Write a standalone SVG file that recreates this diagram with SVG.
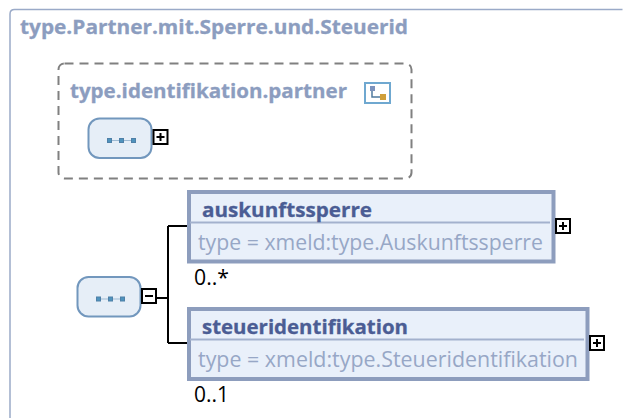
<svg xmlns="http://www.w3.org/2000/svg" width="623" height="418" viewBox="0 0 623 418">
<style>
text{font-family:"Open Sans","Noto Sans","DejaVu Sans",sans-serif}
.t{font-weight:700;font-size:20px;fill:#8c9dbf;stroke:#8c9dbf;stroke-width:.3}
.n{font-weight:700;font-size:20px;fill:#4b5d94;stroke:#4b5d94;stroke-width:.3}
.s{font-size:21px;fill:#97a7c6}
.o{font-size:21px;fill:#000}
.box{fill:#e9f0fa;stroke:#8d9dbd;stroke-width:4}
.sep{stroke:#a3b1cd;stroke-width:2}
.seq{fill:#e6eef7;stroke:#7297bd;stroke-width:2}
.btn{fill:#fff;stroke:#000;stroke-width:2}
.sym{stroke:#000;stroke-width:2}
.c{fill:none;stroke:#000;stroke-width:2}
</style>
<defs>
<g id="dots"><path d="M0 0H24" stroke="#9dbad3" stroke-width="1"/><rect x="-2" y="-2" width="4" height="4" fill="#4f93bd" stroke="#4f80a8"/><rect x="10" y="-2" width="4" height="4" fill="#4f93bd" stroke="#4f80a8"/><rect x="22" y="-2" width="4" height="4" fill="#4f93bd" stroke="#4f80a8"/></g>
<g id="plus"><rect x="0.500" y="0.500" width="14" height="14" class="btn"/><path d="M3.500 7.500H11.500M7.500 3.500V11.500" class="sym"/></g>
<g id="minus"><rect x="0.500" y="0.500" width="14" height="14" class="btn"/><path d="M3.500 7.500H11.500" class="sym"/></g>
</defs>
<g id="partner-type">
<path d="M10 418V14Q10 9.500 14.500 9.500H622.500" fill="none" stroke="#9aaac8" stroke-width="1.500"/>
<text class="t" x="20" y="34" textLength="388" lengthAdjust="spacingAndGlyphs">type.Partner.mit.Sperre.und.Steuerid</text>
</g>
<g id="identifikation-partner">
<rect x="58.500" y="63.500" width="353" height="115" rx="6" fill="none" stroke="#808080" stroke-width="2" stroke-dasharray="9 6"/>
<text class="t" x="70" y="98" textLength="277" lengthAdjust="spacingAndGlyphs">type.identifikation.partner</text>
<rect x="365" y="83" width="25" height="20" fill="#fff" stroke="#6fa8d0" stroke-width="2"/>
<path d="M372 90V97H381" fill="none" stroke="#4f7a9f" stroke-width="1.500"/>
<rect x="370" y="86" width="5" height="5" fill="#7d93bd"/>
<rect x="380" y="94" width="6" height="6" fill="#cf9f3a"/>
</g>
<g id="sequence-1">
<rect x="88.500" y="118.500" width="63" height="39.500" rx="11" class="seq"/>
<use href="#dots" x="109.500" y="140.500"/>
<use href="#plus" x="153" y="129.500"/>
</g>
<g id="sequence-2">
<rect x="77.500" y="277" width="63" height="39.500" rx="11" class="seq"/>
<use href="#dots" x="98.500" y="299"/>
<use href="#minus" x="141.500" y="288.500"/>
</g>
<g id="connectors">
<path class="c" d="M157 298H168M168 226V343M168 226H188M168 343H188"/>
</g>
<g id="auskunftssperre">
<rect x="189" y="192" width="364.500" height="69.500" class="box"/>
<path class="sep" d="M190 222.500H550"/>
<text class="n" x="202" y="217" textLength="170" lengthAdjust="spacingAndGlyphs">auskunftssperre</text>
<text class="s" x="198" y="250" textLength="345" lengthAdjust="spacingAndGlyphs">type = xmeld:type.Auskunftssperre</text>
<text class="o" x="194" y="285" textLength="35" lengthAdjust="spacingAndGlyphs">0..*</text>
<use href="#plus" x="555.500" y="218.500"/>
</g>
<g id="steueridentifikation">
<rect x="189" y="309" width="398.500" height="70" class="box"/>
<path class="sep" d="M190 339.500H584"/>
<text class="n" x="202" y="334" textLength="206" lengthAdjust="spacingAndGlyphs">steueridentifikation</text>
<text class="s" x="198" y="367" textLength="380" lengthAdjust="spacingAndGlyphs">type = xmeld:type.Steueridentifikation</text>
<text class="o" x="194" y="402" textLength="35" lengthAdjust="spacingAndGlyphs">0..1</text>
<use href="#plus" x="589.500" y="335.500"/>
</g>
</svg>
